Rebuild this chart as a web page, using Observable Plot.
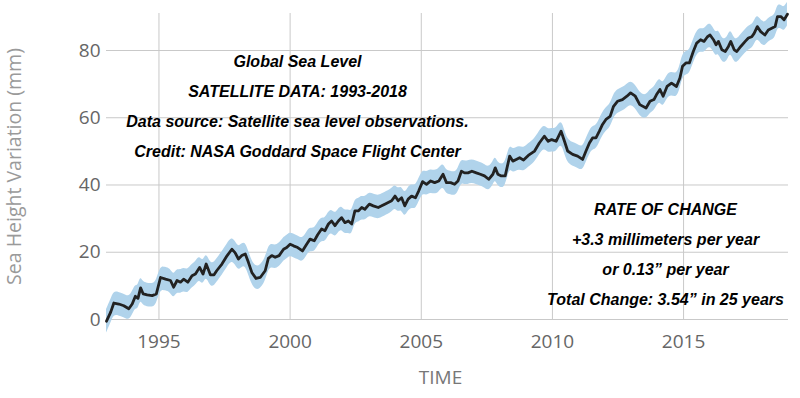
<!DOCTYPE html>
<html>
<head>
<meta charset="utf-8">
<script src="https://cdn.jsdelivr.net/npm/d3@7"></script>
<script src="https://cdn.jsdelivr.net/npm/@observablehq/plot@0.6"></script>
<style>
  html, body { margin: 0; padding: 0; background: #fff; }
  #chart { width: 800px; height: 398px; }
</style>
</head>
<body>
<div id="chart"></div>
<script>
const years = [
  1993.00, 1993.16, 1993.28, 1993.47, 1993.66, 1993.85, 1993.98, 1994.10, 1994.20, 1994.30,
  1994.40, 1994.55, 1994.74, 1994.90, 1995.06, 1995.25, 1995.44, 1995.56, 1995.69, 1995.82,
  1995.94, 1996.10, 1996.26, 1996.39, 1996.55, 1996.68, 1996.80, 1996.96, 1997.10, 1997.20,
  1997.40, 1997.60, 1997.78, 1997.90, 1998.03, 1998.16, 1998.29, 1998.41, 1998.54, 1998.70,
  1998.86, 1999.05, 1999.17, 1999.30, 1999.43, 1999.58, 1999.75, 1999.87, 2000.00, 2000.13,
  2000.29, 2000.47, 2000.63, 2000.76, 2000.92, 2001.05, 2001.20, 2001.33, 2001.46, 2001.58,
  2001.71, 2001.84, 2001.96, 2002.09, 2002.22, 2002.35, 2002.47, 2002.60, 2002.73, 2002.85,
  2003.02, 2003.17, 2003.36, 2003.49, 2003.61, 2003.74, 2003.87, 2004.00, 2004.12, 2004.25,
  2004.37, 2004.50, 2004.63, 2004.78, 2004.90, 2005.05, 2005.20, 2005.36, 2005.51, 2005.67,
  2005.83, 2005.96, 2006.12, 2006.27, 2006.40, 2006.53, 2006.65, 2006.78, 2006.93, 2007.10,
  2007.25, 2007.41, 2007.57, 2007.73, 2007.82, 2007.92, 2008.05, 2008.20, 2008.37, 2008.49,
  2008.62, 2008.75, 2008.90, 2009.08, 2009.32, 2009.50, 2009.69, 2009.84, 2009.97, 2010.14,
  2010.33, 2010.46, 2010.58, 2010.77, 2010.96, 2011.15, 2011.28, 2011.41, 2011.53, 2011.66,
  2011.79, 2011.91, 2012.04, 2012.20, 2012.33, 2012.48, 2012.67, 2012.84, 2012.98, 2013.16,
  2013.33, 2013.57, 2013.72, 2013.87, 2013.97, 2014.10, 2014.22, 2014.37, 2014.54, 2014.73,
  2014.86, 2014.96, 2015.09, 2015.22, 2015.37, 2015.50, 2015.65, 2015.78, 2015.91, 2016.01,
  2016.14, 2016.24, 2016.33, 2016.46, 2016.59, 2016.71, 2016.80, 2016.93, 2017.03, 2017.18,
  2017.35, 2017.47, 2017.60, 2017.69, 2017.81, 2017.94, 2018.10, 2018.23, 2018.36, 2018.49,
  2018.58, 2018.71, 2018.83, 2018.96
];
const seaLevel = [
  -0.5, 2.2, 4.9, 4.6, 4.1, 3.2, 4.6, 6.9, 6.3, 9.4,
  7.6, 7.3, 7.1, 7.6, 12.5, 12.0, 11.6, 9.6, 11.6, 11.1,
  12.0, 11.1, 13.0, 13.5, 15.5, 13.5, 16.5, 13.3, 13.3, 14.5,
  16.5, 19.0, 20.9, 19.9, 18.0, 19.0, 19.5, 17.0, 14.0, 12.2,
  12.5, 14.5, 18.2, 19.0, 18.5, 19.0, 20.9, 21.4, 22.4, 21.9,
  21.4, 20.4, 22.4, 23.9, 23.4, 25.2, 26.9, 26.4, 28.4, 29.3,
  27.9, 29.3, 30.3, 28.8, 29.3, 28.4, 32.3, 32.3, 33.3, 32.8,
  34.3, 33.8, 33.3, 33.8, 34.3, 34.8, 35.3, 36.7, 35.3, 36.2,
  33.8, 35.8, 36.7, 36.2, 38.2, 41.0, 40.2, 41.2, 40.7, 41.2,
  43.2, 40.7, 40.7, 40.2, 41.2, 44.1, 43.6, 43.6, 44.1, 43.6,
  43.2, 42.7, 41.7, 43.2, 45.1, 43.2, 42.7, 42.7, 48.6, 47.1,
  47.6, 48.1, 47.4, 48.8, 50.1, 52.5, 54.5, 53.0, 53.5, 53.0,
  56.0, 53.0, 50.1, 49.1, 48.6, 47.6, 50.1, 52.5, 54.0, 54.0,
  56.0, 58.0, 59.5, 60.4, 63.4, 64.9, 65.4, 66.4, 67.4, 66.4,
  63.9, 62.9, 64.9, 65.4, 66.9, 68.4, 66.4, 69.3, 70.3, 69.3,
  71.8, 75.3, 76.3, 76.3, 79.7, 82.2, 83.2, 82.7, 84.1, 84.6,
  83.2, 81.7, 82.7, 80.2, 79.7, 81.2, 82.7, 80.2, 79.7, 81.2,
  82.7, 83.7, 84.1, 85.1, 87.1, 85.6, 84.6, 86.1, 86.6, 87.1,
  90.1, 90.1, 89.1, 90.8
];
// uncertainty band half-width (mm), read from the shaded envelope
const uncertainty = 3.5;

const xTicks = [1995, 2000, 2005, 2010, 2015];
const yTicks = [0, 20, 40, 60, 80];

const xLabel = "TIME";
const yLabel = "Sea Height Variation (mm)";
const leftNote = [
  "Global Sea Level",
  "SATELLITE DATA: 1993-2018",
  "Data source: Satellite sea level observations.",
  "Credit: NASA Goddard Space Flight Center"
];
const rightNote = [
  "RATE OF CHANGE",
  "+3.3 millimeters per year",
  "or 0.13\u201D per year",
  "Total Change: 3.54\u201D in 25 years"
];

const data = years.map((t, i) => ({t, v: seaLevel[i]}));

const noteFont = "'Liberation Sans', Arial, sans-serif";

const chart = Plot.plot({
  width: 800,
  height: 398,
  marginTop: 13,
  marginBottom: 79,
  marginLeft: 106,
  marginRight: 12,
  style: {fontFamily: "'Open Sans', sans-serif", fontSize: "19px", color: "#666", background: "#fff"},
  x: {domain: [1993, 2019], ticks: xTicks, tickFormat: d => String(d)},
  y: {domain: [0, 91], ticks: yTicks},
  marks: [
    Plot.gridX(xTicks, {stroke: "#c9c9c9", strokeOpacity: 1, strokeWidth: 1}),
    Plot.gridY(yTicks, {stroke: "#c9c9c9", strokeOpacity: 1, strokeWidth: 1}),
    Plot.areaY(data, {x: "t", y1: d => d.v - uncertainty, y2: d => d.v + uncertainty, fill: "#b0d3eb", fillOpacity: 1, curve: "basis"}),
    Plot.line(data, {x: "t", y: "v", stroke: "#222", strokeWidth: 2.8, strokeLinejoin: "round"}),
    Plot.axisX({ticks: xTicks, tickFormat: d => String(d), tickSize: 0, tickPadding: 15, label: null, fill: "#666"}),
    Plot.axisY({ticks: yTicks, tickSize: 0, tickPadding: 6, label: null, fill: "#666"}),
    Plot.text([yLabel], {frameAnchor: "left", dx: -92, rotate: -90, text: d => d, fill: "#9a9a9a", fontSize: 19.5, textAnchor: "middle", lineAnchor: "middle"}),
    Plot.text([xLabel], {frameAnchor: "bottom", dx: -7, dy: 58, text: d => d, fill: "#777", fontSize: 19, lineAnchor: "middle"}),
    Plot.text([leftNote.join("\n")], {frameAnchor: "top-left", dx: 191, dy: 89, text: d => d, textAnchor: "middle", lineAnchor: "middle", lineHeight: 1.875, fontSize: 16, fontWeight: "bold", fontStyle: "italic", fontFamily: noteFont, fill: "#000"}),
    Plot.text([rightNote.join("\n")], {frameAnchor: "top-left", dx: 559, dy: 236.5, text: d => d, textAnchor: "middle", lineAnchor: "middle", lineHeight: 1.875, fontSize: 16, fontWeight: "bold", fontStyle: "italic", fontFamily: noteFont, fill: "#000"})
  ]
});
document.getElementById("chart").appendChild(chart);
</script>
</body>
</html>
